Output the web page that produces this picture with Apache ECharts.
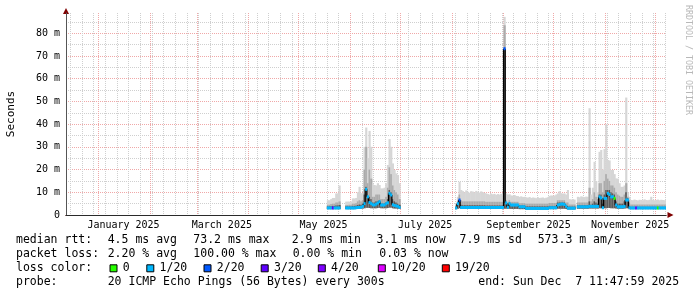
<!DOCTYPE html>
<html>
<head>
<meta charset="utf-8">
<script src="https://cdn.jsdelivr.net/npm/echarts@6.0.0/dist/echarts.min.js"></script>
<style>
html,body{margin:0;padding:0;background:#ffffff;}
#chart{width:697px;height:297px;}
</style>
</head>
<body>
<div id="chart"></div>
<script>
// ---------- time frame ----------
const END_TIME = Date.UTC(2025, 11, 7, 11, 47, 59);
const DAY = 86400000;
const SPAN_DAYS = 360;
const START_TIME = END_TIME - SPAN_DAYS * DAY;

// ---------- axis ticks / labels ----------
const xLabelMonths = [0, 2, 4, 6, 8, 10];
const xTickLabels = ['January 2025', 'March 2025', 'May 2025', 'July 2025', 'September 2025', 'November 2025'];
const yMajorTicks = [0, 10, 20, 30, 40, 50, 60, 70, 80];
const yTickLabels = ['0', '10 m', '20 m', '30 m', '40 m', '50 m', '60 m', '70 m', '80 m'];
const yMinorTicks = [0, 5, 10, 15, 20, 25, 30, 35, 40, 45, 50, 55, 60, 65, 70, 75, 80, 85];
const yMax = 88.9;

// ---------- legend text ----------
const statsRtt = ['4.5 ms avg', '73.2 ms max', '2.9 ms min', '3.1 ms now', '7.9 ms sd', '573.3 m am/s'];
const statsLoss = ['2.20 % avg', '100.00 % max', '0.00 % min', '0.03 % now'];
const lossLevels = [0, 1, 2, 3, 4, 10, 19];
const lossLabels = ['0', '1/20', '2/20', '3/20', '4/20', '10/20', '19/20'];
const lossColors = ['#26ff00', '#00b8ff', '#0059ff', '#5e00ff', '#7e00ff', '#dd00ff', '#ff0000'];
const probeText = '20 ICMP Echo Pings (56 Bytes) every 300s';
const endText = 'end: Sun Dec  7 11:47:59 2025';

// ---------- data part A: 2025-05-18 .. 2025-06-30 (daily) ----------
const partAStart = Date.UTC(2025, 4, 18);
const medA = [
  3.1,3.1,3.1,3.1,3.1, 3.1,3.1,3.1,null,null, null,3.1,3.1,3.1,
  3.1,3.1,3.1,3.2,3.3, 3.3,3.4,3.8,5.0,11.3,
  8.0,5.5,5.0,4.5,4.4, 4.8,5.3,5.9,4.4,4.4,
  4.4,5.0,5.4,9.5,8.8, 4.5,4.2,4.0,3.8,3.3
];
const loA = [
  2.6,2.6,2.6,2.6,2.6, 2.6,2.6,2.6,null,null, null,2.6,2.6,2.6,
  2.6,2.6,2.6,2.7,2.7, 2.7,2.8,2.9,3.0,3.2,
  3.2,3.1,3.0,3.0,3.0, 3.0,3.1,3.2,3.0,3.0,
  3.0,3.0,3.1,3.3,3.3, 3.0,2.9,2.9,2.8,2.7
];
const darkA = [
  3.8,3.8,3.9,4.0,4.0, 4.2,4.2,4.4,null,null, null,3.8,3.8,3.8,
  3.8,4.0,4.0,4.1,4.4, 4.6,4.5,5.0,9.0,12.4,
  8.0,8.0,7.0,5.5,5.5, 6.0,6.0,6.5,5.0,5.0,
  5.0,5.5,7.0,11.0,10.0, 7.0,6.0,5.5,5.0,4.5
];
const midA = [
  4.5,4.5,4.8,5.0,5.0, 5.5,5.5,6.0,null,null, null,4.4,4.4,4.5,
  4.5,5.0,5.0,5.2,6.0, 6.5,6.0,6.5,20.0,30.0,
  14.0,20.0,16.0,8.0,8.0, 9.0,9.0,9.0,7.0,7.0,
  7.0,8.0,12.0,21.0,18.0, 13.0,11.0,10.0,9.0,7.0
];
const hiA = [
  6.5,6.5,7.0,7.5,7.5, 9.5,9.5,13.0,null,null, null,5.9,5.9,5.9,
  6.0,7.3,7.3,7.5,10.0, 12.4,9.6,9.6,30.0,38.5,
  25.0,37.0,30.0,13.5,13.2, 13.0,14.0,13.2,11.7,11.7,
  12.0,14.0,22.0,33.4,30.0, 22.7,19.8,18.3,17.6,14.0
];
const lossA = [
  1,1,1,3,1, 1,1,1,null,null, null,1,1,1,
  1,1,1,1,1, 1,1,1,1,1,
  1,1,1,1,1, 1,1,1,1,1,
  1,1,1,1,1, 1,1,1,1,1
];

// ---------- data part B: 2025-08-03 .. 2025-12-07 (daily) ----------
const partBStart = Date.UTC(2025, 7, 3);
const medB = [
  3.1,5.0,6.6,3.3,3.3, 3.3,3.3,3.3,3.3,3.3,
  3.3,3.3,3.3,3.3,3.3, 3.3,3.3,3.3,3.3,3.3,
  3.3,3.3,3.3,3.3,3.3, 3.3,3.3,3.3,3.3,
  73.2,5.3,3.4,5.0,4.4, 4.4,4.4,4.4,4.4,3.6,
  3.6,3.6,3.6,2.9,2.9, 2.9,2.9,2.9,2.9,2.9,
  2.9,2.9,2.9,2.9,2.9, 2.9,2.9,3.2,3.2,3.2,
  3.2,3.2,4.4,4.6,4.8, 4.8,4.6,3.8,3.0,3.0,
  3.0,3.0,3.0,null,3.6, 3.6,3.6,3.6,3.6,3.6,
  3.6,3.8,3.8,3.8,3.8, 3.8,3.8,8.0,7.5,3.2,
  7.3,
  7.3,9.5,9.0,8.0,8.0, 7.3,4.4,3.6,3.6,3.6,
  3.6,3.8,6.6,6.6,3.2, 3.1,3.1,3.1,3.1,3.1,
  3.1,3.1,3.1,3.1,3.1, 3.1,3.1,3.1,3.1,3.1,
  3.1,3.1,3.1,3.1,3.1, 3.1,3.1
];
const loB = [
  2.6,2.8,3.0,2.7,2.7, 2.7,2.7,2.7,2.7,2.7,
  2.7,2.7,2.7,2.7,2.7, 2.7,2.7,2.7,2.7,2.7,
  2.7,2.7,2.7,2.7,2.7, 2.7,2.7,2.7,2.7,
  2.8,2.8,2.7,2.8,2.7, 2.7,2.7,2.7,2.7,2.6,
  2.6,2.6,2.6,2.4,2.4, 2.4,2.4,2.4,2.4,2.4,
  2.4,2.4,2.4,2.4,2.4, 2.4,2.4,2.6,2.6,2.6,
  2.6,2.6,2.8,2.8,2.8, 2.8,2.8,2.7,2.5,2.5,
  2.5,2.5,2.5,null,2.8, 2.8,2.8,2.8,2.8,2.8,
  2.8,2.9,2.9,2.9,2.9, 2.9,2.9,3.0,3.0,2.7,
  3.0,
  3.0,3.1,3.1,3.0,3.0, 3.0,2.9,2.8,2.8,2.8,
  2.8,2.9,3.0,3.0,2.6, 2.6,2.6,2.6,2.6,2.6,
  2.6,2.6,2.6,2.6,2.6, 2.6,2.6,2.6,2.6,2.6,
  2.6,2.6,2.6,2.6,2.6, 2.6,2.6
];
const darkB = [
  3.6,5.0,7.0,4.5,4.3, 4.3,4.3,4.3,4.3,4.3,
  4.3,4.3,4.3,4.3,4.3, 4.3,4.3,4.3,4.2,4.2,
  4.2,4.2,4.2,4.2,4.2, 4.2,4.2,4.2,4.2,
  73.0,5.5,4.2,5.5,4.8, 4.8,4.8,4.8,4.8,4.2,
  4.2,4.2,4.2,3.8,3.8, 3.8,3.8,3.8,3.8,3.8,
  3.8,3.8,3.8,3.8,3.8, 3.8,3.8,4.0,4.0,4.0,
  4.0,4.0,5.5,5.5,5.5, 5.5,5.5,4.5,4.0,3.7,
  3.7,3.7,3.7,null,4.3, 4.3,4.3,4.3,4.3,4.3,
  4.3,6.0,4.5,5.0,6.0, 5.5,5.0,9.0,9.0,5.0,
  9.0,
  11.0,11.0,11.0,10.0,9.5, 9.0,6.0,5.0,5.0,5.0,
  5.0,6.0,10.0,7.5,4.0, 3.6,3.6,3.6,3.6,3.6,
  3.6,3.6,3.6,3.6,3.6, 3.6,3.6,3.6,3.6,3.6,
  3.6,3.6,3.6,3.6,3.6, 3.6,3.6
];
const midB = [
  4.2,6.0,9.0,6.5,6.0, 6.0,6.0,6.0,6.0,6.0,
  6.0,6.0,6.0,6.0,6.0, 6.0,6.0,6.0,5.8,5.8,
  5.8,5.8,5.8,5.8,5.8, 5.8,5.8,5.8,5.8,
  83.5,6.5,5.5,6.5,5.8, 5.8,5.8,5.8,5.8,5.2,
  5.2,5.2,5.2,5.0,5.0, 5.0,5.0,5.0,5.0,5.0,
  5.0,5.0,5.0,5.0,5.0, 5.0,5.0,5.3,5.3,5.3,
  5.3,5.3,6.5,6.5,6.5, 6.5,6.5,5.5,5.5,4.6,
  4.6,4.6,4.6,null,5.5, 5.5,5.5,5.5,5.5,5.5,
  5.5,12.0,6.0,7.0,10.0, 8.0,7.0,14.0,14.0,10.0,
  15.0,
  18.0,16.0,15.0,13.0,13.0, 12.0,10.0,9.0,8.5,8.0,
  8.0,9.0,14.0,8.0,5.5, 4.6,4.6,4.6,4.6,4.6,
  4.6,4.6,4.6,4.6,4.6, 4.6,4.6,4.6,4.6,4.6,
  4.6,4.6,4.6,4.6,4.6, 4.6,4.6
];
const hiB = [
  5.2,8.0,14.6,11.0,10.5, 10.0,10.8,10.2,9.8,10.5,
  10.3,10.0,10.6,10.2,9.9, 10.4,10.0,9.7,9.5,9.2,
  9.0,9.4,9.1,9.3,8.9, 9.2,9.0,9.3,9.1,
  87.2,9.5,9.0,9.1,8.6, 8.5,8.8,8.4,8.3,8.0,
  8.2,7.9,8.0,7.8,7.6, 7.9,7.5,7.7,7.6,7.4,
  7.8,7.5,7.6,7.7,7.4, 7.6,7.8,8.4,8.6,8.5,
  8.6,9.0,9.5,10.5,9.6, 9.4,9.5,9.0,11.0,7.0,
  6.8,7.0,6.8,null,8.0, 7.8,8.2,8.0,7.9,8.1,
  8.0,47.0,9.0,12.0,23.4, 15.0,10.0,27.8,28.6,20.0,
  29.0,
  40.0,24.2,24.0,19.8,19.8, 18.0,16.1,16.0,14.0,12.4,
  12.4,13.0,51.7,10.0,8.0, 6.6,6.5,6.8,6.6,6.4,
  6.7,6.6,6.5,6.9,6.6, 6.5,6.7,8.0,6.6,6.5,
  6.6,6.8,6.5,6.7,6.6, 6.5,6.7
];
const lossB = [
  1,1,2,1,1, 1,1,1,1,1,
  1,1,1,1,1, 1,1,1,1,1,
  1,1,1,1,1, 1,1,1,1,
  2,1,1,1,1, 1,1,1,1,1,
  1,1,1,1,1, 1,1,1,1,1,
  1,1,1,1,1, 1,1,1,1,1,
  1,1,1,1,1, 1,1,1,1,1,
  1,1,1,null,1, 1,1,1,1,1,
  1,1,1,1,1, 1,1,1,1,1,
  1,
  1,1,1,1,1, 0,1,1,1,1,
  1,1,1,1,1, 1,1,1,3,1,
  1,1,1,1,1, 1,1,1,1,1,
  1,0,1,1,1, 1,1
];

// ---------- styling ----------
const MONO = '"DejaVu Sans Mono", monospace';
const SMOKE = ['#d6d6d6', '#ababab', '#5a5a5a'];
const GRID_MINOR = '#cfcfcf';
const GRID_MAJOR = '#f0a8a8';
const ARROW = '#7f0000';
const AXIS = '#2a2a2a';

// ---------- build rows: [t, lo, dark, mid, hi, med, loss, prevMed] ----------
const rows = [];
function addPart(start, lo, dk, md, hi, med, loss) {
  for (let i = 0; i < med.length; i++) {
    if (med[i] === null) continue;
    const prev = i > 0 && med[i - 1] !== null ? med[i - 1] : null;
    rows.push([start + i * DAY, lo[i], dk[i], md[i], hi[i], med[i], loss[i], prev]);
  }
}
addPart(partAStart, loA, darkA, midA, hiA, medA, lossA);
addPart(partBStart, loB, darkB, midB, hiB, medB, lossB);

function lossColor(v) {
  let c = lossColors[0];
  for (let i = 0; i < lossLevels.length; i++) if (v >= lossLevels[i]) c = lossColors[i];
  return c;
}

// ---------- tick positions ----------
const sundays = [];
for (let t = Date.UTC(2024, 11, 15); t <= END_TIME; t += 7 * DAY) sundays.push(t);
const monthStarts = [];
for (let m = 0; m < 12; m++) monthStarts.push(Date.UTC(2025, m, 1));
const labelValues = xLabelMonths.map(m => Date.UTC(2025, m, 1) + 15 * DAY);

function smokeItem(params, api) {
  const t = api.value(0);
  const xa = api.coord([t, 0])[0];
  const xb = api.coord([t + DAY, 0])[0];
  const w = xb - xa + 0.5;
  const yLo = api.coord([t, api.value(1)])[1];
  const band = (v, fill) => {
    const yt = api.coord([t, v])[1];
    return { type: 'rect', shape: { x: xa, y: yt, width: w, height: yLo - yt }, style: { fill: fill } };
  };
  return { type: 'group', children: [band(api.value(4), SMOKE[0]), band(api.value(3), SMOKE[1]), band(api.value(2), SMOKE[2])] };
}
function stepItem(params, api) {
  const prev = api.value(7);
  if (prev === null || isNaN(prev)) return null;
  const t = api.value(0);
  const xa = api.coord([t, 0])[0];
  const y0 = api.coord([t, prev])[1];
  const y1 = api.coord([t, api.value(5)])[1];
  return { type: 'line', shape: { x1: xa, y1: y0, x2: xa, y2: y1 }, style: { stroke: '#000', lineWidth: 1.2 } };
}
function medItem(params, api) {
  const t = api.value(0);
  const xa = api.coord([t, 0])[0];
  const xb = api.coord([t + DAY, 0])[0];
  const ym = api.coord([t, api.value(5)])[1];
  return { type: 'rect', shape: { x: xa, y: ym - 1.5, width: xb - xa + 0.4, height: 3 }, style: { fill: lossColor(api.value(6)) } };
}

// ---------- legend graphics ----------
const graphics = [];
function txt(x, y, s) {
  graphics.push({ type: 'text', x: x, y: y, silent: true,
    style: { text: s, fill: '#000', font: '11.5px ' + MONO, align: 'left', verticalAlign: 'middle' } });
}
const rowY = [240.5, 254.5, 268.3, 282.3];
const rttX = [107.7, 193.3, 291.7, 376.5, 459.5, 537.7];
const lossX = [107.7, 193.3, 292.7, 379.3];
txt(16, rowY[0], 'median rtt:');
statsRtt.forEach((s, i) => txt(rttX[i], rowY[0], s));
txt(16, rowY[1], 'packet loss:');
statsLoss.forEach((s, i) => txt(lossX[i], rowY[1], s));
txt(16, rowY[2], 'loss color:');
const boxX = [109.5, 146.3, 203.5, 260.7, 317.8, 377.8, 441.8];
lossLabels.forEach((s, i) => {
  graphics.push({ type: 'rect', silent: true, shape: { x: boxX[i] + 0.5, y: rowY[2] - 3.5, width: 7, height: 7 },
    style: { fill: lossColors[i], stroke: '#000', lineWidth: 1 } });
  txt(boxX[i] + 13.3, rowY[2], s);
});
txt(16, rowY[3], 'probe:');
txt(107.7, rowY[3], probeText);
txt(478.3, rowY[3], endText);
graphics.push({ type: 'text', x: 11, y: 114, rotation: Math.PI / 2, silent: true,
  style: { text: 'Seconds', fill: '#000', font: '11px ' + MONO, align: 'center', verticalAlign: 'middle' } });
graphics.push({ type: 'text', x: 688, y: 5, rotation: -Math.PI / 2, silent: true,
  style: { text: 'RRDTOOL / TOBI OETIKER', fill: '#b8b8b8', font: '8.3px ' + MONO, align: 'left', verticalAlign: 'middle' } });

const baseX = { type: 'value', min: START_TIME, max: END_TIME, position: 'bottom', offset: 0 };
const baseY = { type: 'value', min: 0, max: yMax, position: 'left', offset: 0 };

const option = {
  animation: false,
  backgroundColor: '#ffffff',
  grid: { left: 66, right: 31, top: 13, bottom: 82, containLabel: false },
  xAxis: [
    Object.assign({}, baseX, {
      z: 0,
      axisLine: { show: true, onZero: false, symbol: ['none', 'triangle'], symbolSize: [6, 6], symbolOffset: [0, 4.5], lineStyle: { color: ARROW, width: 1 } },
      axisTick: { show: false, customValues: sundays }, axisLabel: { show: false },
      splitLine: { show: true, lineStyle: { color: GRID_MINOR, width: 1, type: [1, 1] } }
    }),
    Object.assign({}, baseX, {
      z: 0,
      axisLine: { show: false }, axisTick: { show: false, customValues: monthStarts }, axisLabel: { show: false },
      splitLine: { show: true, lineStyle: { color: GRID_MAJOR, width: 1, type: [1, 1] } }
    }),
    Object.assign({}, baseX, {
      z: 1,
      axisLine: { show: true, onZero: false, lineStyle: { color: AXIS, width: 1 } },
      axisTick: { show: false, customValues: labelValues },
      axisLabel: { show: true, customValues: labelValues, margin: 5, color: '#000', fontFamily: MONO, fontSize: 10,
        formatter: v => { const i = labelValues.indexOf(v); return i >= 0 ? xTickLabels[i] : ''; } },
      splitLine: { show: false }
    })
  ],
  yAxis: [
    Object.assign({}, baseY, {
      z: 0,
      axisLine: { show: false }, axisTick: { show: false, customValues: yMinorTicks }, axisLabel: { show: false },
      splitLine: { show: true, lineStyle: { color: GRID_MINOR, width: 1, type: [1, 1] } }
    }),
    Object.assign({}, baseY, {
      z: 0,
      axisLine: { show: true, onZero: false, symbol: ['none', 'triangle'], symbolSize: [6, 6], symbolOffset: [0, 2], lineStyle: { color: ARROW, width: 1 } },
      axisTick: { show: false, customValues: yMajorTicks }, axisLabel: { show: false },
      splitLine: { show: true, lineStyle: { color: GRID_MAJOR, width: 1, type: [1, 1] } }
    }),
    Object.assign({}, baseY, {
      z: 1,
      axisLine: { show: true, onZero: false, lineStyle: { color: '#555', width: 1 } },
      axisTick: { show: false, customValues: yMajorTicks },
      axisLabel: { show: true, customValues: yMajorTicks, margin: 6, color: '#000', fontFamily: MONO, fontSize: 10,
        formatter: v => { const i = yMajorTicks.indexOf(v); return i >= 0 ? yTickLabels[i] : ''; } },
      splitLine: { show: false }
    })
  ],
  series: [
    { type: 'custom', name: 'smoke', xAxisIndex: 0, yAxisIndex: 0, clip: true, silent: true, z: 2,
      renderItem: smokeItem, data: rows, encode: { x: 0, y: [1, 4] } },
    { type: 'custom', name: 'medianSteps', xAxisIndex: 0, yAxisIndex: 0, clip: true, silent: true, z: 3,
      renderItem: stepItem, data: rows, encode: { x: 0, y: [5, 7] } },
    { type: 'custom', name: 'medianLoss', xAxisIndex: 0, yAxisIndex: 0, clip: true, silent: true, z: 4,
      renderItem: medItem, data: rows, encode: { x: 0, y: 5 } }
  ],
  graphic: graphics
};

const chart = echarts.init(document.getElementById('chart'), null, { renderer: 'canvas', width: 697, height: 297 });
chart.setOption(option);
</script>
</body>
</html>
